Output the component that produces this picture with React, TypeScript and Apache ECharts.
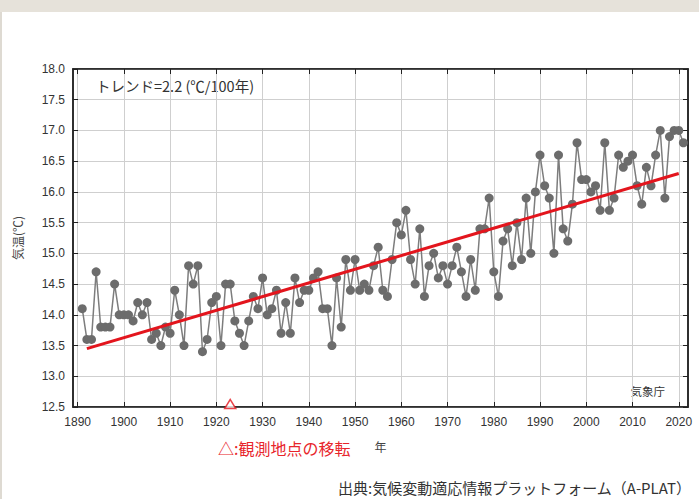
import React, { useEffect, useRef } from "react";
import * as echarts from "echarts";

// Axis categories (years shown on the x axis range)
const axisYears: string[] = [];
for (let y = 1889; y <= 2022; y++) axisYears.push(String(y));

const startYear = 1891;
const temps = [
  14.1, 13.6, 13.6, 14.7, 13.8, 13.8, 13.8, 14.5, 14.0, 14.0,
  14.0, 13.9, 14.2, 14.0, 14.2, 13.6, 13.7, 13.5, 13.8, 13.7,
  14.4, 14.0, 13.5, 14.8, 14.5, 14.8, 13.4, 13.6, 14.2, 14.3,
  13.5, 14.5, 14.5, 13.9, 13.7, 13.5, 13.9, 14.3, 14.1, 14.6,
  14.0, 14.1, 14.4, 13.7, 14.2, 13.7, 14.6, 14.2, 14.4, 14.4,
  14.6, 14.7, 14.1, 14.1, 13.5, 14.6, 13.8, 14.9, 14.4, 14.9,
  14.4, 14.5, 14.4, 14.8, 15.1, 14.4, 14.3, 14.9, 15.5, 15.3,
  15.7, 14.9, 14.5, 15.4, 14.3, 14.8, 15.0, 14.6, 14.8, 14.5,
  14.8, 15.1, 14.7, 14.3, 14.9, 14.4, 15.4, 15.4, 15.9, 14.7,
  14.3, 15.2, 15.4, 14.8, 15.5, 14.9, 15.9, 15.0, 16.0, 16.6,
  16.1, 15.9, 15.0, 16.6, 15.4, 15.2, 15.8, 16.8, 16.2, 16.2,
  16.0, 16.1, 15.7, 16.8, 15.7, 15.9, 16.6, 16.4, 16.5, 16.6,
  16.1, 15.8, 16.4, 16.1, 16.6, 17.0, 15.9, 16.9, 17.0, 17.0,
  16.8,
];

const trendYears = ["1892", "2020"];
const trendValues = [13.45, 16.3];

const relocationYear = "1923";

const trendLabel = "トレンド=2.2 (℃/100年)";
const agencyLabel = "気象庁";
const relocationLabel = "△:観測地点の移転";
const sourceLabel = "出典:気候変動適応情報プラットフォーム（A-PLAT）";
const yName = "気温(℃)";
const xName = "年";

const isDecade = (_i: number, v: string) => Number(v) % 10 === 0;

export default function App() {
  const ref = useRef<HTMLDivElement>(null);
  useEffect(() => {
    if (!ref.current) return;
    const chart = echarts.init(ref.current, undefined, { renderer: "svg" });
    const sans = "'Liberation Sans', Arial, sans-serif";
    const cjk = "'Noto Sans CJK JP', sans-serif";
    const frame = "#222";
    const grid = "#cfcfcf";
    chart.setOption({
      animation: false,
      backgroundColor: "#ffffff",
      grid: {
        left: 73,
        top: 69,
        right: 11,
        bottom: 92,
        show: true,
        borderColor: frame,
        borderWidth: 1.5,
      },
      xAxis: [
        {
          type: "category",
          data: axisYears,
          boundaryGap: false,
          axisLine: { show: true, lineStyle: { color: frame, width: 1.5 } },
          axisTick: { show: true, inside: true, interval: isDecade, length: 5, lineStyle: { color: frame } },
          axisLabel: { interval: isDecade, color: "#333", fontSize: 12, margin: 9, fontFamily: sans },
          splitLine: { show: true, interval: isDecade, lineStyle: { color: grid, type: "solid", width: 1 } },
          name: xName,
          nameLocation: "middle",
          nameGap: 33,
          nameTextStyle: { color: "#444", fontSize: 12, fontFamily: cjk },
        },
        {
          type: "category",
          data: axisYears,
          boundaryGap: false,
          position: "top",
          axisLine: { show: true, lineStyle: { color: frame, width: 1.5 } },
          axisTick: { show: true, inside: true, interval: isDecade, length: 5, lineStyle: { color: frame } },
          axisLabel: { show: false },
          splitLine: { show: false },
        },
      ],
      yAxis: [
        {
          type: "value",
          min: 12.5,
          max: 18,
          interval: 0.5,
          axisLine: { show: true, lineStyle: { color: frame, width: 1.5 } },
          axisTick: { show: true, inside: true, length: 5, lineStyle: { color: frame } },
          axisLabel: {
            color: "#333",
            fontSize: 12,
            margin: 8,
            fontFamily: sans,
            formatter: (v: number) => v.toFixed(1),
          },
          splitLine: { show: true, lineStyle: { color: grid, type: "solid", width: 1 } },
          name: yName,
          nameLocation: "middle",
          nameRotate: 90,
          nameGap: 50,
          nameTextStyle: { color: "#444", fontSize: 12, fontFamily: cjk },
        },
        {
          type: "value",
          min: 12.5,
          max: 18,
          interval: 0.5,
          position: "right",
          axisLine: { show: true, lineStyle: { color: frame, width: 1.5 } },
          axisTick: { show: true, inside: true, length: 5, lineStyle: { color: frame } },
          axisLabel: { show: false },
          splitLine: { show: false },
        },
      ],
      series: [
        {
          type: "line",
          data: temps.map((v, i) => [String(startYear + i), v]),
          symbol: "circle",
          symbolSize: 9,
          showSymbol: true,
          showAllSymbol: true,
          itemStyle: { color: "#6c6c6c" },
          lineStyle: { color: "#7d7d7d", width: 1.5 },
          z: 2,
        },
        {
          type: "line",
          data: trendYears.map((y, i) => [y, trendValues[i]]),
          symbol: "none",
          lineStyle: { color: "#e3151d", width: 3 },
          z: 4,
        },
        {
          type: "scatter",
          data: [[relocationYear, 12.5]],
          symbol: "triangle",
          symbolSize: [11, 9],
          symbolOffset: [0, -3],
          clip: false,
          itemStyle: { color: "#ffffff", borderColor: "#e3151d", borderWidth: 1.5 },
          z: 5,
        },
      ],
      graphic: [
        { type: "rect", shape: { x: 0, y: 0, width: 699, height: 12 }, style: { fill: "#e6e2da" }, silent: true },
        { type: "rect", shape: { x: 0, y: 12, width: 2, height: 487 }, style: { fill: "#dedad2" }, silent: true },
        {
          type: "text",
          x: 96,
          y: 85,
          style: { text: trendLabel, fill: "#333", fontSize: 14.5, fontFamily: cjk, verticalAlign: "middle" },
        },
        {
          type: "text",
          x: 665,
          y: 391,
          style: { text: agencyLabel, fill: "#333", fontSize: 11.5, fontFamily: cjk, align: "right", verticalAlign: "middle" },
        },
        {
          type: "text",
          x: 218,
          y: 448,
          style: { text: relocationLabel, fill: "#e8252b", fontSize: 16, fontFamily: cjk, verticalAlign: "middle" },
        },
        {
          type: "text",
          x: 691,
          y: 487,
          style: { text: sourceLabel, fill: "#333", fontSize: 15, fontFamily: cjk, align: "right", verticalAlign: "middle" },
        },
      ],
    });
    return () => chart.dispose();
  }, []);
  return (
    <div
      ref={ref}
      style={{ position: "fixed", left: 0, top: 0, width: 699, height: 499 }}
    />
  );
}
